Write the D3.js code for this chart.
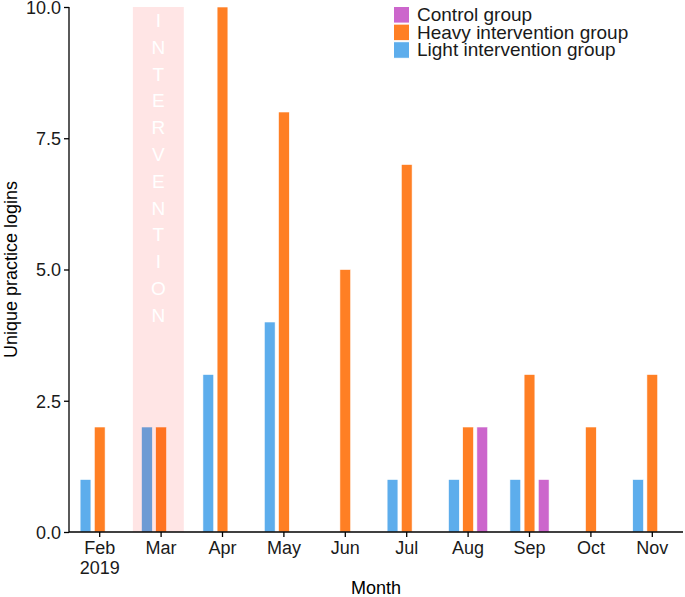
<!DOCTYPE html>
<html><head><meta charset="utf-8">
<script src="https://cdn.jsdelivr.net/npm/d3@7"></script>
<style>body{margin:0;background:#fff}svg{display:block;font-family:"Liberation Sans",Arial,sans-serif}</style>
</head><body><svg id="c" width="685" height="597"></svg>
<script>
const months = ["Feb","Mar","Apr","May","Jun","Jul","Aug","Sep","Oct","Nov"];
const monthSub = ["2019","","","","","","","","",""];
const groups = ["Light intervention group","Heavy intervention group","Control group"];
const lightVals = [1,2,3,4,0,1,1,1,0,1];
const heavyVals = [2,2,10,8,5,7,2,3,2,3];
const controlVals = [0,0,0,0,0,0,2,1,0,0];
const yTicks = [0,2.5,5,7.5,10];
const legendOrder = ["Control group","Heavy intervention group","Light intervention group"];
const colors = {"Light intervention group":"#5DADEC","Heavy intervention group":"#FF7F24","Control group":"#CC66CC"};
const interventionMonth = "Mar";
const interventionSpan = [-0.46, 0.37];
const interventionText = "INTERVENTION";

(function(){
const svg = d3.select("#c");
const mL = 69, mR = 683, mT = 7, mB = 532;
const x = d3.scaleBand().domain(months).range([mL, mR]).padding(0);
const y = d3.scaleLinear().domain([0,10]).range([mB, mT]);
const step = x.step();
const cx = m => x(m) + x.bandwidth()/2;
const slot = 0.231*step, bw = 10.8;
const offs = {"Light intervention group":-1,"Heavy intervention group":0,"Control group":1};
const seriesVals = {"Light intervention group":lightVals,"Heavy intervention group":heavyVals,"Control group":controlVals};

const data = [];
groups.forEach(g => months.forEach((m,i) => { if (seriesVals[g][i] > 0) data.push({g, m, v: seriesVals[g][i]}); }));

svg.append("g").selectAll("rect").data(data).join("rect")
  .attr("x", d => cx(d.m) + offs[d.g]*slot - bw/2)
  .attr("width", bw)
  .attr("y", d => y(d.v))
  .attr("height", d => y(0) - y(d.v))
  .attr("fill", d => colors[d.g])
  .attr("stroke", "#fff").attr("stroke-width", 0.6);

const ix0 = cx(interventionMonth) + interventionSpan[0]*step;
const ix1 = cx(interventionMonth) + interventionSpan[1]*step;
svg.append("rect").attr("x", ix0).attr("width", ix1-ix0)
  .attr("y", y(10)).attr("height", y(0)-y(10))
  .attr("fill", "red").attr("fill-opacity", 0.1);
const letters = interventionText.split("");
const lx = (ix0+ix1)/2;
svg.append("g").selectAll("text").data(letters).join("text")
  .attr("x", lx).attr("y", (d,i) => 27 + i*26.8)
  .attr("text-anchor","middle").attr("fill","#fff")
  .attr("font-size", 19).text(d => d);

const yAxis = svg.append("g").attr("transform", `translate(${mL},0)`)
  .call(d3.axisLeft(y).tickValues(yTicks).tickFormat(d3.format(".1f")).tickSize(5).tickSizeOuter(0));
const xAxis = svg.append("g").attr("transform", `translate(0,${mB})`)
  .call(d3.axisBottom(x).tickSize(5).tickSizeOuter(0));
[yAxis, xAxis].forEach(a => {
  a.select(".domain").attr("stroke","#000").attr("stroke-width",1.3);
  a.selectAll(".tick line").attr("stroke","#000").attr("stroke-width",1.3);
  a.selectAll("text").attr("fill","#1a1a1a").attr("font-size",18).attr("font-family","Liberation Sans, Arial, sans-serif");
});
yAxis.select(".domain").attr("d", `M0,${mT}V${mB}`);
xAxis.select(".domain").attr("d", `M${mL},0H${mR}`);
yAxis.selectAll(".tick text").attr("x", -8).attr("dy", "0.36em");
xAxis.selectAll(".tick text").attr("y", 0).attr("dy", null).each(function(d,i){
  const t = d3.select(this); t.text(null);
  t.append("tspan").attr("x",0).attr("y",22).text(d);
  if (monthSub[i]) t.append("tspan").attr("x",0).attr("y",42).text(monthSub[i]);
});

svg.append("text").attr("x", (mL+mR)/2).attr("y", 594).attr("text-anchor","middle")
  .attr("font-size",18).attr("fill","#000").text("Month");
svg.append("text").attr("transform", `translate(17,${(mT+mB)/2}) rotate(-90)`)
  .attr("text-anchor","middle").attr("font-size",18).attr("fill","#000").text("Unique practice logins");

const lg = svg.append("g").attr("transform","translate(393,6)");
legendOrder.forEach((g,i) => {
  lg.append("rect").attr("x",0.5).attr("y", i*17.6+0.5).attr("width",16).attr("height",16.6)
    .attr("fill", colors[g]).attr("stroke","#fff").attr("stroke-width",1);
  lg.append("text").attr("x",24).attr("y", i*17.6+15).attr("font-size",19).attr("fill","#1a1a1a").text(g);
});
})();
</script></body></html>
